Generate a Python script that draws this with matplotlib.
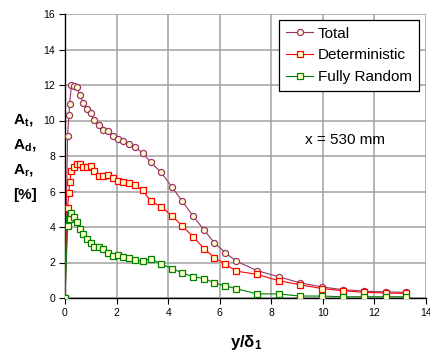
import numpy as np
import matplotlib
matplotlib.use("Agg")
import matplotlib.pyplot as plt

plt.rcParams['font.family'] = ['Liberation Sans', 'DejaVu Sans']
plt.rcParams['mathtext.fontset'] = 'custom'
plt.rcParams['mathtext.rm'] = 'Liberation Sans'
plt.rcParams['mathtext.bf'] = 'Liberation Sans:bold'

# y / delta_1 positions (shared by all three series)
y_delta = [0, 0.10, 0.15, 0.18, 0.25, 0.35, 0.45, 0.57, 0.71, 0.84, 0.99,
           1.12, 1.31, 1.48, 1.66, 1.87, 2.06, 2.25, 2.47, 2.70, 3.02, 3.32,
           3.73, 4.16, 4.55, 4.97, 5.40, 5.79, 6.22, 6.63, 7.45, 8.28, 9.10,
           9.97, 10.78, 11.61, 12.44, 13.23]

total = [0, 9.13, 10.29, 10.95, 11.98, 11.94, 11.87, 11.46, 10.99, 10.65, 10.44,
         10.03, 9.73, 9.45, 9.43, 9.11, 8.98, 8.83, 8.69, 8.52, 8.16, 7.65,
         7.08, 6.23, 5.45, 4.61, 3.82, 3.11, 2.55, 2.09, 1.54, 1.20, 0.86,
         0.62, 0.47, 0.39, 0.34, 0.32]

deterministic = [0, 5.09, 5.90, 6.52, 7.15, 7.40, 7.55, 7.55, 7.40, 7.38, 7.44,
                 7.14, 6.87, 6.86, 6.93, 6.74, 6.59, 6.52, 6.48, 6.35, 6.07, 5.46,
                 5.14, 4.62, 4.06, 3.44, 2.78, 2.27, 1.92, 1.52, 1.33, 0.98, 0.75,
                 0.53, 0.41, 0.32, 0.28, 0.26]

fully_random = [0, 4.06, 4.43, 4.45, 4.79, 4.58, 4.30, 3.89, 3.61, 3.31, 3.08,
                2.86, 2.86, 2.74, 2.55, 2.37, 2.40, 2.33, 2.27, 2.16, 2.08, 2.21,
                1.92, 1.65, 1.41, 1.20, 1.09, 0.86, 0.68, 0.53, 0.23, 0.23, 0.11,
                0.11, 0.07, 0.07, 0.07, 0.07]

fig = plt.figure(figsize=(4.30, 3.54), dpi=100)
ax = fig.add_axes([65/430, 56/354, 361/430, 284/354])

face = '#ffffcc'
ax.plot(y_delta, total, color='#993366', lw=0.8, marker='o', ms=4.4,
        mfc=face, mec='#993366', mew=0.9, label='Total', zorder=3)
ax.plot(y_delta, deterministic, color='#ff0000', lw=0.8, marker='s', ms=4.4,
        mfc=face, mec='#ff0000', mew=0.9, label='Deterministic', zorder=3)
ax.plot(y_delta, fully_random, color='#008000', lw=0.8, marker='s', ms=4.4,
        mfc=face, mec='#008000', mew=0.9, label='Fully Random', zorder=3)

ax.set_xlim(0, 14)
ax.set_ylim(0, 16)
ax.set_xticks(np.arange(0, 15, 2))
ax.set_yticks(np.arange(0, 17, 2))
ax.grid(True, color='#a0a0a0', lw=1.1)
ax.set_axisbelow(True)
for s in ['top', 'right']:
    ax.spines[s].set_visible(False)
for s in ['left', 'bottom']:
    ax.spines[s].set_linewidth(1.0)
ax.tick_params(labelsize=7.5, length=4, width=0.8, pad=3)

leg = ax.legend(loc='upper right', bbox_to_anchor=(0.98, 0.979), fontsize=11,
                frameon=True, fancybox=False, edgecolor='black', framealpha=1,
                handlelength=1.8, borderpad=0.45, labelspacing=0.5,
                handletextpad=0.3, borderaxespad=0)
leg.get_frame().set_linewidth(0.9)

ax.text(9.3, 8.9, 'x = 530 mm', fontsize=11, va='center', ha='left')

fig.text(246/430, 1 - 342/354, r'$\mathbf{y/δ_1}$', fontsize=12,
         ha='center', va='center')
ylines = [r'$\mathbf{A_t}$,', r'$\mathbf{A_d}$,', r'$\mathbf{A_r}$,', '[%]']
for i, t in enumerate(ylines):
    fig.text(13/430, 1 - (120 + 25 * i)/354, t, fontsize=11, fontweight='bold',
             ha='left', va='center')

fig.savefig('out.png', dpi=100)
